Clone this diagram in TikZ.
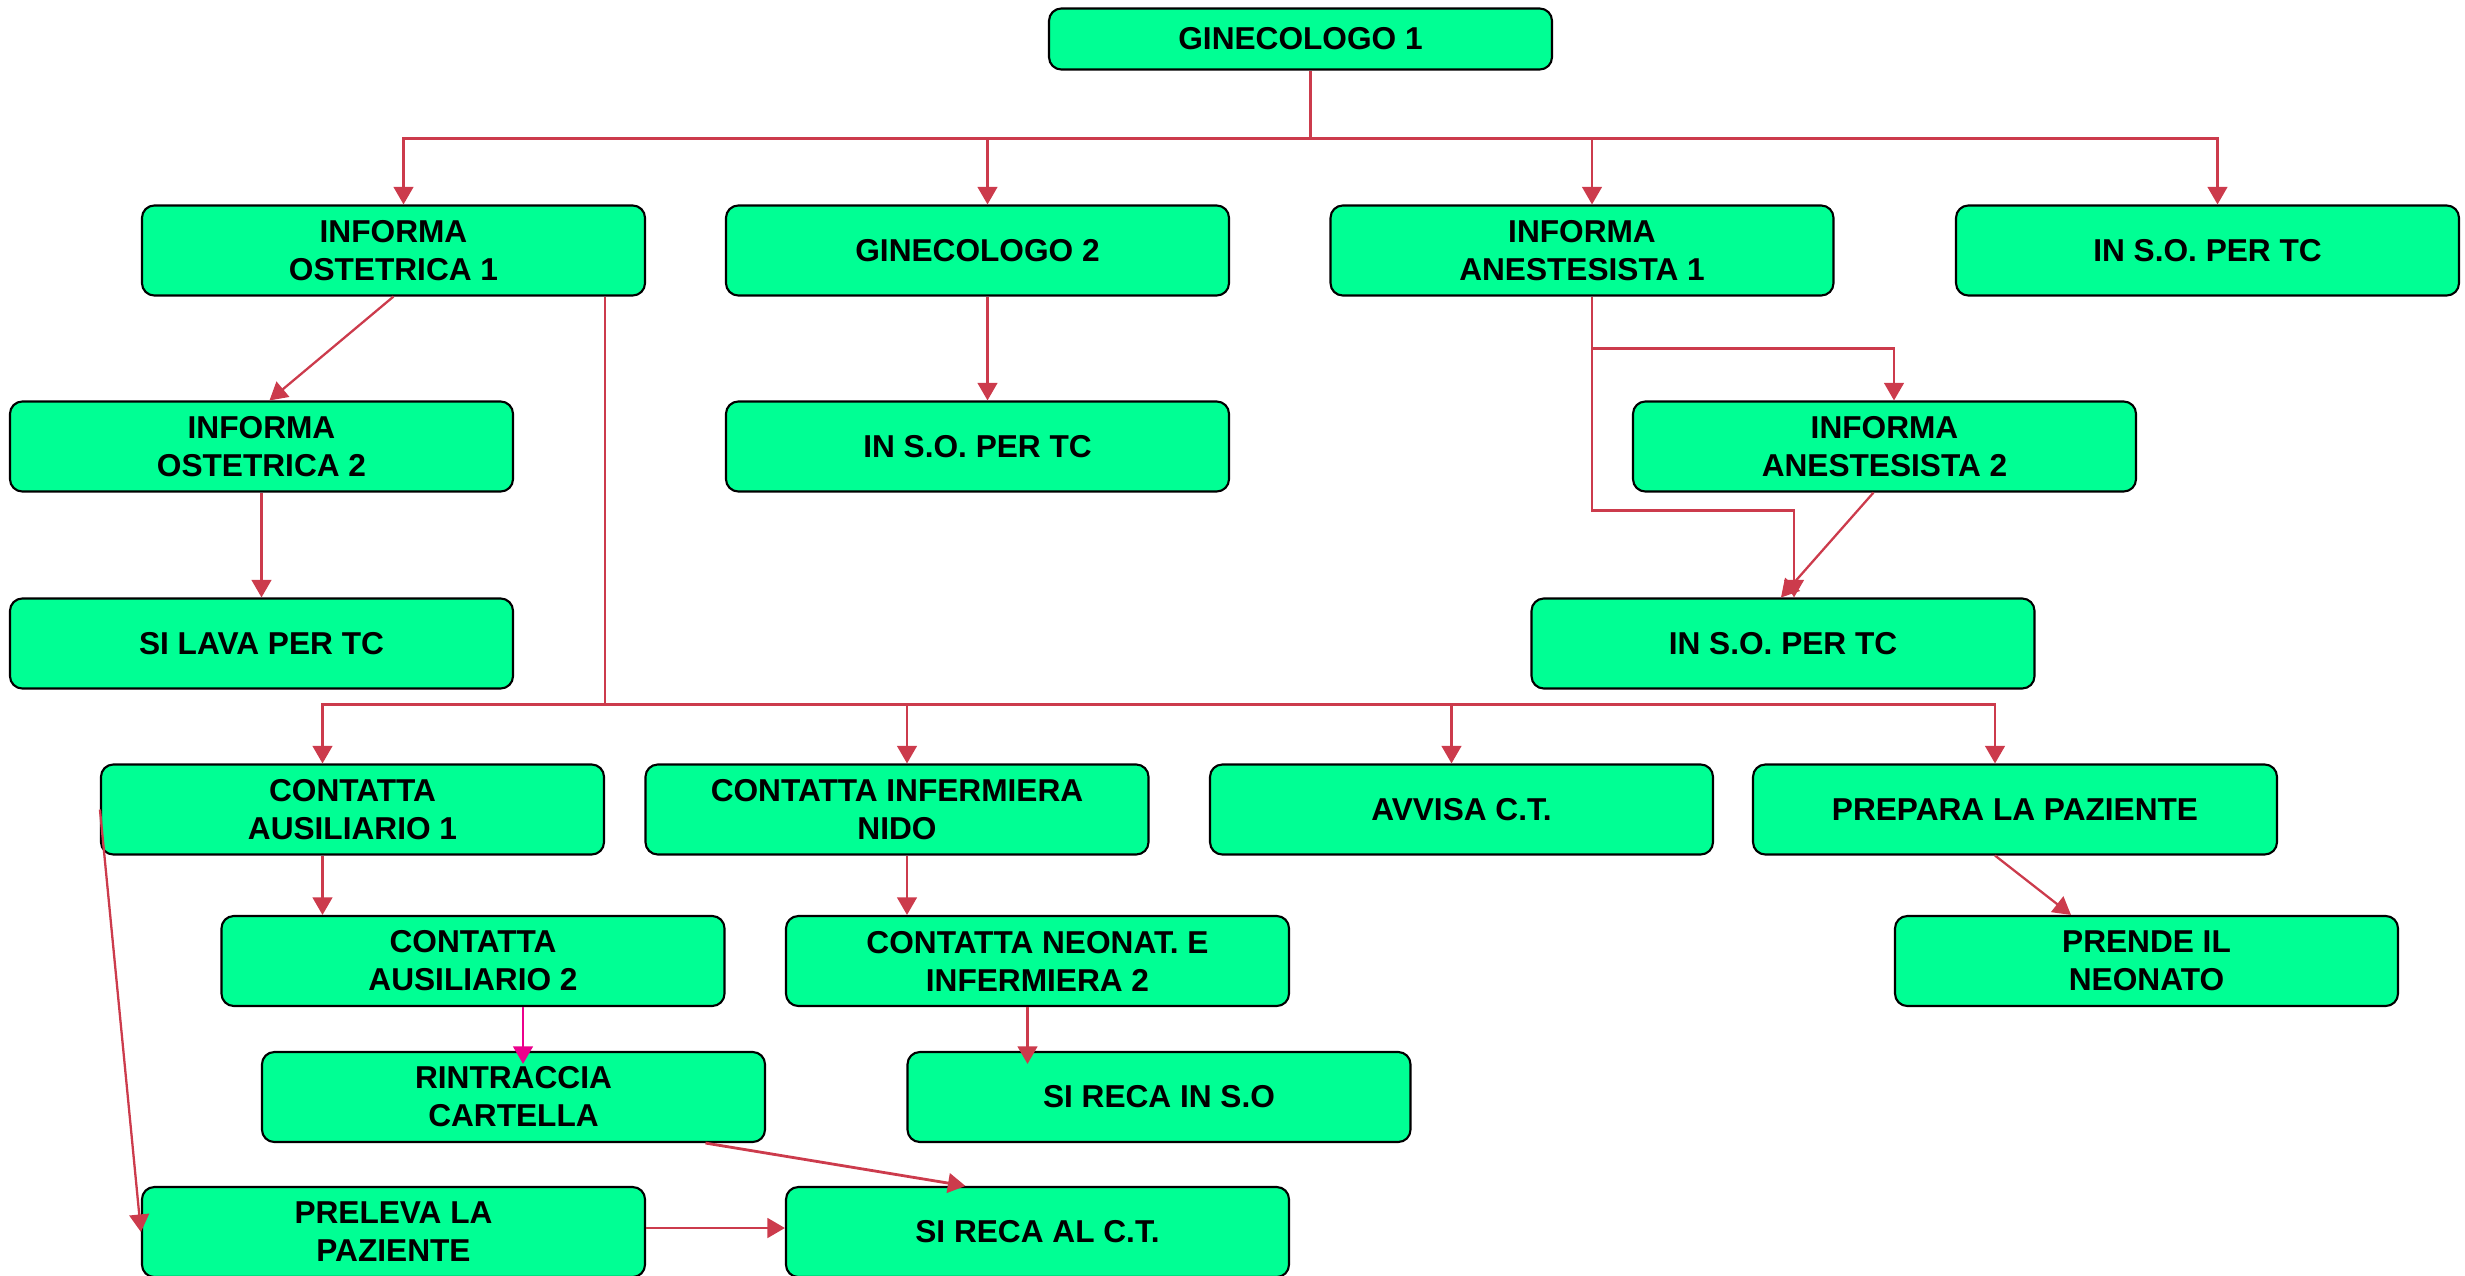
\documentclass[tikz,border=0pt]{standalone}
\usepackage{fontspec}
\setmainfont{Liberation Sans}
\usepackage{xcolor}
\usetikzlibrary{arrows.meta,calc}
\definecolor{boxgreen}{RGB}{0,255,148}
\definecolor{linkred}{RGB}{204,59,76}

\begin{document}
\begin{tikzpicture}[
  task/.style={draw=black, line width=0.6pt, rounded corners=3.5pt, fill=boxgreen,
               minimum width=50.3mm, minimum height=9mm, inner sep=1pt,
               align=center, font=\fontsize{9}{10.8}\selectfont\bfseries},
  link/.style={draw=linkred, line width=0.65pt},
  flow/.style={link, -{Triangle[length=5pt,width=5.6pt]}},
  hflow/.style={flow, line width=0.8pt},
  pflow/.style={draw=magenta, line width=0.65pt, -{Triangle[length=5pt,width=5.6pt]}},
]
\useasboundingbox (0,0) rectangle (24.65,-12.76);
\clip (0,0) rectangle (24.65,-12.76);

% Top: first gynaecologist
\node[task, minimum height=6.1mm] (gin1) at (13.005,-0.39) {GINECOLOGO 1};

% Row 1
\node[task] (ost1) at (3.935,-2.505) {INFORMA\\OSTETRICA 1};
\node[task] (gin2) at (9.775,-2.505) {GINECOLOGO 2};
\node[task] (ane1) at (15.82,-2.505) {INFORMA\\ANESTESISTA 1};
\node[task] (so1) at (22.075,-2.505) {IN S.O. PER TC};

% Row 2
\node[task] (ost2) at (2.615,-4.465) {INFORMA\\OSTETRICA 2};
\node[task] (so2) at (9.775,-4.465) {IN S.O. PER TC};
\node[task] (ane2) at (18.845,-4.465) {INFORMA\\ANESTESISTA 2};

% Row 3
\node[task] (lava) at (2.615,-6.435) {SI LAVA PER TC};
\node[task] (so3) at (17.83,-6.435) {IN S.O. PER TC};

% Row 4: tasks of the first midwife
\node[task] (aus1) at (3.525,-8.095) {CONTATTA\\AUSILIARIO 1};
\node[task] (nido) at (8.97,-8.095) {CONTATTA INFERMIERA\\NIDO};
\node[task] (avv) at (14.615,-8.095) {AVVISA C.T.};
\node[task, minimum width=52.4mm] (prep) at (20.15,-8.095) {PREPARA LA PAZIENTE};

% Row 5
\node[task] (aus2) at (4.73,-9.61) {CONTATTA\\AUSILIARIO 2};
\node[task] (neo) at (10.375,-9.61) {CONTATTA NEONAT. E\\INFERMIERA 2};
\node[task] (prend) at (21.465,-9.61) {PRENDE IL\\NEONATO};

% Row 6
\node[task] (rint) at (5.135,-10.97) {RINTRACCIA\\CARTELLA};
\node[task] (reso) at (11.59,-10.97) {SI RECA IN S.O};

% Row 7
\node[task] (prel) at (3.935,-12.32) {PRELEVA LA\\PAZIENTE};
\node[task] (reat) at (10.375,-12.32) {SI RECA AL C.T.};

% Branches of the first gynaecologist
\draw[link] ([xshift=1mm]gin1.south) -- ++(0,-0.68) coordinate (bus1);
\draw[flow] (bus1) -| ([xshift=1mm]ost1.north);
\draw[flow] (bus1) -| ([xshift=1mm]gin2.north);
\draw[flow] (bus1) -| ([xshift=1mm]ane1.north);
\draw[flow] (bus1) -| ([xshift=1mm]so1.north);

% Midwives and second gynaecologist
\draw[flow] (ost1.south) -- ([xshift=0.8mm]ost2.north);
\draw[flow] (ost2.south) -- (lava.north);
\draw[flow] ([xshift=1mm]gin2.south) -- ([xshift=1mm]so2.north);

% Anaesthetists
\draw[flow] ([xshift=1mm]ane1.south) -- ++(0,-0.52) -| ([xshift=0.95mm]ane2.north);
\draw[flow] ([xshift=1mm]ane1.south) -- ++(0,-2.14) -| ([xshift=1.1mm]so3.north);
\draw[flow] ([xshift=-1.1mm]ane2.south) -- ([xshift=-0.2mm]so3.north);

% Tasks started by the first midwife
\draw[link] ([xshift=-4.1mm]ost1.south east) -- ++(0,-4.08) coordinate (bus2);
\draw[flow] (bus2) -| ([xshift=-3mm]aus1.north);
\draw[flow] (bus2) -| ([xshift=1mm]nido.north);
\draw[flow] (bus2) -| ([xshift=-1mm]avv.north);
\draw[flow] (bus2) -| ([xshift=-2mm]prep.north);

% Lower chains
\draw[flow] ([xshift=-3mm]aus1.south) -- ([xshift=-3mm]aus1.south |- aus2.north);
\draw[flow] ([xshift=1mm]nido.south) -- ([xshift=1mm]nido.south |- neo.north);
\draw[flow] ([xshift=-2mm]prep.south) -- ([xshift=-7.55mm]prend.north);
\draw[pflow, shorten >=-1.3mm] ([xshift=5mm]aus2.south) -- ([xshift=5mm]aus2.south |- rint.north);
\draw[flow, shorten >=-1.3mm] ([xshift=-1mm]neo.south) -- ([xshift=-1mm]neo.south |- reso.north);
\draw[hflow] ([xshift=19.2mm]rint.south) -- ([xshift=-7.2mm]reat.north);
\draw[hflow] ([yshift=0.4mm]prel.east) -- ([yshift=0.4mm]prel.east -| reat.west);
\draw[flow] (aus1.west) -- (prel.west);
\end{tikzpicture}
\end{document}
